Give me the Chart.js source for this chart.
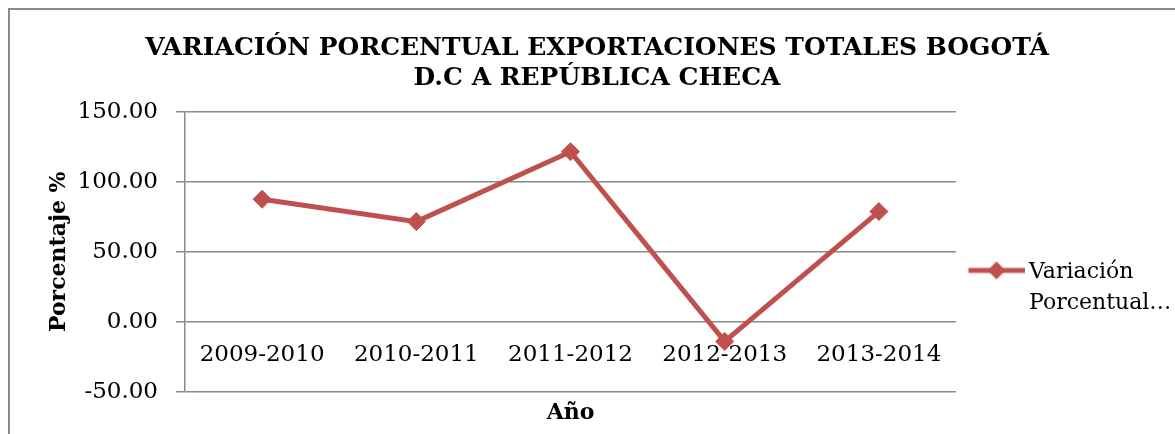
<!DOCTYPE html>
<html>
<head>
<meta charset="utf-8">
<title>Variación porcentual exportaciones Bogotá - República Checa</title>
<script src="https://cdn.jsdelivr.net/npm/chart.js@4.4.1/dist/chart.umd.min.js"></script>
<style>
  body { margin: 0; background: #fff; overflow: hidden; }
  .box { width: 1175px; height: 434px; }
</style>
</head>
<body>
<div class="box"><canvas id="myChart"></canvas></div>
<script>
//datos
const years = ["2009-2010", "2010-2011", "2011-2012", "2012-2013", "2013-2014"];
const variacion = [87.6, 71.6, 121.6, -14.1, 78.8];
const yTicks = [-50, 0, 50, 100, 150];
const serieName = "Variación Porcentual";
const legendLines = ["Variación", "Porcentual…"];
const titleLines = ["VARIACIÓN PORCENTUAL EXPORTACIONES TOTALES BOGOTÁ", "D.C A REPÚBLICA CHECA"];

const red = "#c0504d";
const gray = "#8a8a8a";
const serif = "'DejaVu Serif', serif";

//icono de la leyenda: linea + rombo (desplazado dentro del lienzo)
const legendIcon = document.createElement("canvas");
legendIcon.width = 62;
legendIcon.height = 26;
let ic = legendIcon.getContext("2d");
ic.strokeStyle = red;
ic.lineWidth = 5;
ic.beginPath();
ic.moveTo(6, 11);
ic.lineTo(62, 11);
ic.stroke();
ic.fillStyle = red;
ic.beginPath();
ic.moveTo(34 - 9, 11);
ic.lineTo(34, 2);
ic.lineTo(34 + 9, 11);
ic.lineTo(34, 20);
ic.closePath();
ic.fill();

//marco gris: solo borde izquierdo y superior
const frame = {
  id: "frame",
  beforeDraw(chart) {
    const ctx = chart.ctx;
    ctx.save();
    ctx.fillStyle = "#fff";
    ctx.fillRect(0, 0, chart.width, chart.height);
    ctx.fillStyle = gray;
    ctx.fillRect(8, 8, chart.width - 8, 2);
    ctx.fillRect(8, 8, 2, chart.height - 8);
    ctx.restore();
  },
};

const ctx = document.getElementById("myChart").getContext("2d");
const myChart = new Chart(ctx, {
  type: "line",
  data: {
    labels: years,
    datasets: [
      {
        label: serieName,
        data: variacion,
        borderColor: red,
        backgroundColor: red,
        borderWidth: 5,
        tension: 0,
        pointStyle: "rectRot",
        pointRadius: 9,
        pointHoverRadius: 9,
        pointBorderWidth: 1,
        pointBackgroundColor: red,
        pointBorderColor: red,
        clip: false,
      },
    ],
  },
  options: {
    responsive: true,
    maintainAspectRatio: false,
    animation: false,
    layout: { padding: { left: 15, right: -4, top: 0, bottom: 0 } },
    plugins: {
      tooltip: { enabled: false },
      title: {
        display: true,
        text: titleLines,
        color: "#000",
        font: { family: serif, size: 25, weight: "bold", lineHeight: 1.2 },
        padding: { top: 33, bottom: 19 },
      },
      legend: {
        position: "right",
        fullSize: false,
        align: "start",
        maxWidth: 223,
        title: { display: true, text: " ", padding: { top: 122, bottom: 0 } },
        labels: {
          usePointStyle: true,
          pointStyleWidth: 49,
          padding: 13,
          color: "#000",
          font: { family: serif, size: 22, lineHeight: 1.4 },
          generateLabels: (chart) => [
            {
              text: legendLines,
              pointStyle: legendIcon,
              fillStyle: red,
              strokeStyle: red,
              lineWidth: 0,
              fontColor: "#000",
              datasetIndex: 0,
              hidden: false,
            },
          ],
        },
      },
    },
    scales: {
      y: {
        position: "left",
        min: -50,
        max: 150,
        afterBuildTicks: (axis) => {
          axis.ticks = yTicks.map((v) => ({ value: v }));
        },
        afterFit: (axis) => {
          axis.width = 170;
        },
        grid: { color: gray, lineWidth: 1.5, drawTicks: true, tickLength: 9 },
        border: { display: true, color: gray, width: 1.5 },
        ticks: {
          padding: 18,
          color: "#000",
          font: { family: serif, size: 23 },
          callback: (v) => Number(v).toFixed(2),
        },
        title: {
          display: true,
          text: "Porcentaje %",
          color: "#000",
          font: { family: serif, size: 22, weight: "bold" },
          padding: { top: 31, bottom: 0 },
        },
      },
      x: {
        type: "category",
        position: { y: 0 },
        offset: true,
        grid: { display: false, drawTicks: false },
        border: { display: false },
        ticks: {
          padding: 20,
          maxRotation: 0,
          autoSkip: false,
          color: "#000",
          font: { family: serif, size: 23 },
        },
      },
      x2: {
        type: "category",
        position: "bottom",
        offset: true,
        grid: { display: false, drawTicks: false },
        border: { display: false },
        ticks: { display: false },
        title: {
          display: true,
          text: "Año",
          color: "#000",
          font: { family: serif, size: 22, weight: "bold" },
          padding: { top: 8, bottom: 8 },
        },
      },
    },
  },
  plugins: [frame],
});
</script>
</body>
</html>
